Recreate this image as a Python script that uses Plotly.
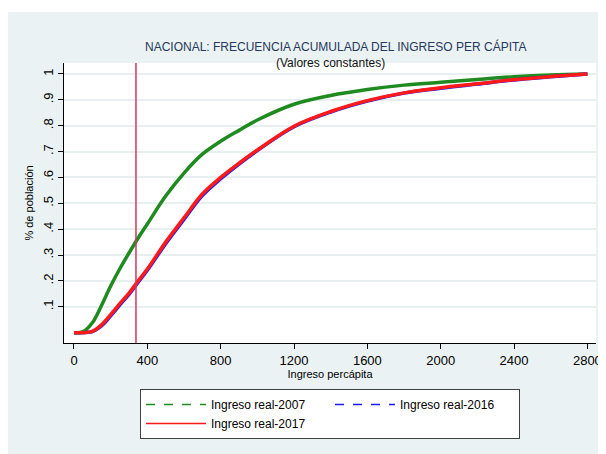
import plotly.graph_objects as go

# Ingreso per cápita (soles constantes) y frecuencia acumulada
ingreso = [0, 50, 100, 150, 200, 250, 300, 350, 400, 500, 600, 700, 800, 900,
           1000, 1200, 1400, 1600, 1800, 2000, 2200, 2400, 2600, 2800]
acum_2007 = [0, 0.004, 0.038, 0.105, 0.18, 0.247, 0.308, 0.366, 0.42, 0.528, 0.617,
             0.69, 0.74, 0.782, 0.822, 0.883, 0.917, 0.94, 0.957, 0.968, 0.979,
             0.989, 0.996, 1.0]
acum_2016 = [0, 0, 0.004, 0.026, 0.065, 0.107, 0.148, 0.195, 0.241, 0.344, 0.438,
             0.53, 0.595, 0.652, 0.704, 0.796, 0.853, 0.895, 0.926, 0.945, 0.961,
             0.977, 0.989, 1.0]
acum_2017 = [0, 0, 0.005, 0.03, 0.07, 0.112, 0.153, 0.2, 0.246, 0.35, 0.444,
             0.536, 0.6, 0.655, 0.706, 0.798, 0.855, 0.897, 0.927, 0.947, 0.962,
             0.978, 0.99, 1.0]
linea_pobreza = 338

x_ticks = [0, 400, 800, 1200, 1600, 2000, 2400, 2800]
y_ticks = [0.1, 0.2, 0.3, 0.4, 0.5, 0.6, 0.7, 0.8, 0.9, 1.0]
y_labels = [".1", ".2", ".3", ".4", ".5", ".6", ".7", ".8", ".9", "1"]

series = [
    ("Ingreso real-2007", acum_2007, "#1f8a1f", "dash"),
    ("Ingreso real-2016", acum_2016, "#1a1aff", "dash"),
    ("Ingreso real-2017", acum_2017, "#ff1a1a", "solid"),
]

fig = go.Figure()
for nombre, valores, color, dash in series:
    fig.add_trace(go.Scatter(x=ingreso, y=valores, mode="lines", name=nombre,
                             line=dict(color=color, width=3.5, shape="spline"),
                             legendgroup=nombre, showlegend=False))
for nombre, valores, color, dash in series:
    fig.add_trace(go.Scatter(x=[None], y=[None], mode="lines", name=nombre,
                             line=dict(color=color, width=1.5, dash=dash),
                             legendgroup=nombre))

font = "Liberation Sans, Arial, sans-serif"
fig.update_layout(
    width=598, height=446,
    margin=dict(l=56, r=10, t=55, b=111, autoexpand=False),
    paper_bgcolor="#eaf2f3",
    plot_bgcolor="white",
    font=dict(family=font, color="black", size=13),
    showlegend=True,
    legend=dict(orientation="h", x=0.5, xanchor="center", y=-0.164, yanchor="top",
                bgcolor="white", bordercolor="#404040", borderwidth=1,
                font=dict(size=12), entrywidth=114, entrywidthmode="pixels",
                itemwidth=60, traceorder="normal"),
    shapes=[
        dict(type="rect", xref="paper", yref="paper", x0=-0.2, x1=1.2,
             y0=1.182, y1=1.3, fillcolor="white", line_width=0, layer="below"),
    ],
    annotations=[
        dict(text="NACIONAL: FRECUENCIA ACUMULADA DEL INGRESO PER CÁPITA",
             xref="paper", yref="paper", x=0.511, y=1.093, showarrow=False,
             font=dict(size=12, color="#26385c")),
        dict(text="(Valores constantes)", xref="paper", yref="paper",
             x=0.5, y=1.032, showarrow=False,
             font=dict(size=12, color="#111111")),
    ],
)

fig.add_vline(x=linea_pobreza, line=dict(color="#d0385a", width=1.5))

fig.update_xaxes(range=[-54.5, 2847], tickvals=x_ticks, ticks="outside",
                 ticklen=5, tickcolor="black", showline=True, linecolor="black",
                 linewidth=1, showgrid=False, zeroline=False,
                 title=dict(text="Ingreso percápita", font=dict(size=11), standoff=2))
fig.update_yaxes(range=[-0.04, 1.0425], tickvals=y_ticks, ticktext=y_labels,
                 tickangle=-90, ticks="outside", ticklen=5, tickcolor="black",
                 showline=True, linecolor="black", linewidth=1,
                 showgrid=True, gridcolor="#e8eff1", gridwidth=1.5, zeroline=False,
                 title=dict(text="% de población", font=dict(size=11), standoff=4))

fig.write_html("out.html")
